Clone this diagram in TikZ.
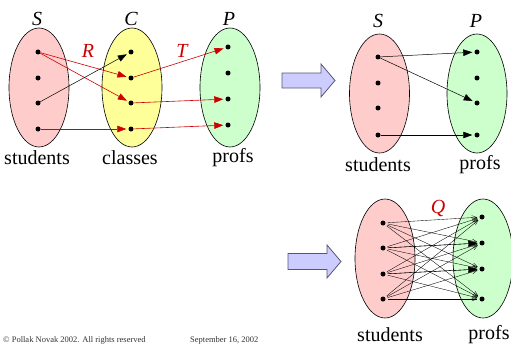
\documentclass[tikz,border=0pt]{standalone}
\usepackage{fontspec}
\setmainfont{Liberation Serif}
\usetikzlibrary{shapes.geometric,arrows.meta}
\definecolor{pinkset}{HTML}{FFCCCC}
\definecolor{yellowset}{HTML}{FFFF99}
\definecolor{greenset}{HTML}{CCFFCC}
\definecolor{relred}{HTML}{CC0000}
\definecolor{arrowfill}{HTML}{CCCCFF}
\definecolor{arrowdraw}{HTML}{555577}
\begin{document}
\begin{tikzpicture}[x=1pt,y=-1pt,
 set/.style={ellipse,draw=black,line width=0.6pt,minimum width=60pt,minimum height=119pt,inner sep=0pt},
 dot/.style={circle,fill=black,inner sep=0pt,minimum size=5pt},
 lbl/.style={font=\fontsize{20}{20}\selectfont,inner sep=0pt},
 setname/.style={font=\fontsize{20}{20}\selectfont\itshape,inner sep=0pt},
 rel/.style={font=\fontsize{20}{20}\selectfont\itshape,text=relred,inner sep=0pt},
 redarr/.style={draw=relred,line width=0.6pt,-{Triangle[length=9pt,width=6.5pt]},shorten >=2pt},
 blkarr/.style={draw=black,line width=0.5pt,-{Triangle[length=9pt,width=6.5pt]},shorten >=2pt},
 thinarr/.style={draw=black,line width=0.35pt,-{Straight Barb[length=5pt,width=4pt]},shorten >=2pt,shorten <=2pt},
 thickq/.style={draw=black,line width=0.35pt,-{Triangle[length=9pt,width=6.5pt]},shorten >=2pt,shorten <=2pt},
 bigarrow/.style={fill=arrowfill,draw=arrowdraw,line width=0.8pt},
 footer/.style={font=\fontsize{8.5}{8.5}\selectfont,inner sep=0pt,anchor=base west,text=black!80}]
\useasboundingbox (0,0) rectangle (511,345);

% ---------- left: S, C, P ----------
\node[set,fill=pinkset] (eS) at (39,87.5) {};
\node[set,fill=yellowset] (eC) at (132,87.5) {};
\node[set,fill=greenset] (eP) at (230,87.5) {};
\node[setname] (nS) at (37,19) {S};
\node[setname] (nC) at (131,19) {C};
\node[setname] (nP) at (229,19) {P};
\node[rel] (nR) at (88,51) {R};
\node[rel] (nT) at (182,51) {T};
\node[lbl] (lS) at (37,158) {students};
\node[lbl] (lC) at (130,158) {classes};
\node[lbl] (lP) at (233,158) {profs};

\foreach \i/\y in {1/52,2/78,3/103,4/129}{
  \node[dot] (s\i) at (38,\y) {};
  \node[dot] (c\i) at (131,\y) {};
}
\foreach \i/\y in {1/47,2/73,3/99,4/125}{
  \node[dot] (p\i) at (228,\y) {};
}
\draw[redarr] (s1) -- (c2);
\draw[redarr] (s1) -- (c3);
\draw[blkarr] (s3) -- (c1);
\draw[redarr] (s4) -- (c4);
\draw[redarr] (c2) -- (p1);
\draw[redarr] (c3) -- (p3);
\draw[redarr] (c4) -- (p4);

% ---------- top block arrow ----------
\draw[bigarrow] (282,73) -- (321,73) -- (321,64) -- (335,80.5) -- (321,97) -- (321,88) -- (282,88) -- cycle;

% ---------- top right: S, P ----------
\node[set,fill=pinkset] (tS) at (379.5,93.5) {};
\node[set,fill=greenset] (tP) at (477,93.5) {};
\node[setname] (tnS) at (378,21) {S};
\node[setname] (tnP) at (476,21) {P};
\node[lbl] (tlS) at (378,165) {students};
\node[lbl] (tlP) at (480,165) {profs};
\foreach \i/\y in {1/57,2/83,3/108,4/135}{
  \node[dot] (ts\i) at (378,\y) {};
}
\foreach \i/\y in {1/52,2/78,3/103,4/135}{
  \node[dot] (tp\i) at (477,\y) {};
}
\draw[blkarr] (ts1) -- (tp1);
\draw[blkarr] (ts1) -- (tp3);
\draw[blkarr] (ts4) -- (tp4);

% ---------- bottom block arrow ----------
\draw[bigarrow] (288,253.5) -- (327,253.5) -- (327,245) -- (341,261.5) -- (327,278) -- (327,269.5) -- (288,269.5) -- cycle;

% ---------- bottom right: Q ----------
\node[set,fill=pinkset] (bS) at (385,258.5) {};
\node[set,fill=greenset] (bP) at (483,258.5) {};
\node[rel] (nQ) at (438,208) {Q};
\node[lbl] (blS) at (390,335) {students};
\node[lbl] (blP) at (489,335) {profs};
\foreach \i/\y in {1/223,2/248,3/274,4/299}{
  \node[dot] (bs\i) at (383,\y) {};
}
\foreach \i/\y in {1/217,2/243,3/269,4/299}{
  \node[dot] (bp\i) at (482,\y) {};
}
\foreach \i in {1,2,3,4}{
  \foreach \j in {1,2,3,4}{
    \draw[thinarr] (bs\i) -- (bp\j);
  }
}
\draw[thickq] (bs2) -- (bp2);
\draw[thickq] (bs3) -- (bp3);

% ---------- footer ----------
\node[footer] (f1) at (3,342) {\textcopyright{} Pollak Novak 2002. All rights reserved};
\node[footer] (f2) at (190,342) {September 16, 2002};
\end{tikzpicture}
\end{document}
